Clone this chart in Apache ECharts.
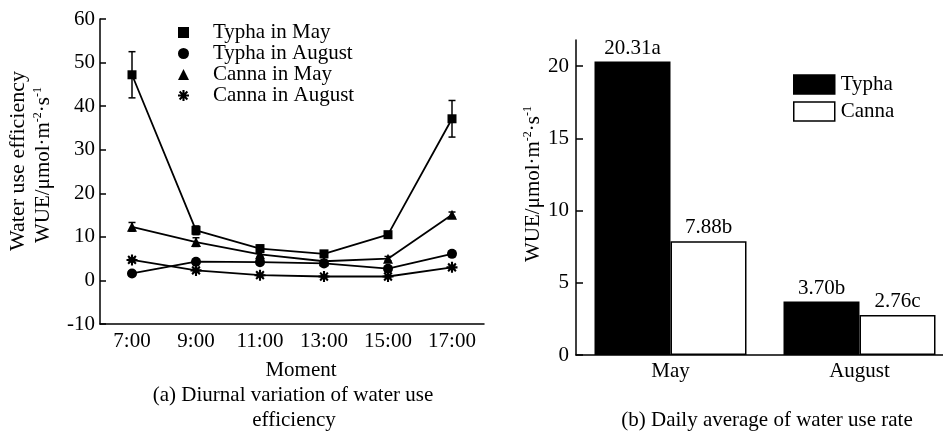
<!DOCTYPE html>
<html>
<head>
<meta charset="utf-8">
<script src="https://cdn.jsdelivr.net/npm/echarts@6/dist/echarts.min.js"></script>
<style>
  html, body { margin: 0; padding: 0; background: #fff; }
  #chart { width: 943px; height: 432px; }
</style>
</head>
<body>
<div id="chart"></div>
<script>
// (a) diurnal water use efficiency, means and standard errors
const hours = ['7:00', '9:00', '11:00', '13:00', '15:00', '17:00'];
const typhaMay = [47.2, 11.5, 7.3, 6.1, 10.5, 37.1];
const typhaMayErr = [5.3, 1.0, 0.8, 0.7, 0.7, 4.2];
const typhaAug = [1.6, 4.3, 4.2, 3.9, 2.7, 6.1];
const typhaAugErr = [0.5, 0.5, 0.5, 0.4, 0.5, 0.6];
const cannaMay = [12.3, 8.8, 6.0, 4.4, 5.0, 15.1];
const cannaMayErr = [1.0, 1.0, 0.5, 0.4, 0.5, 0.6];
const cannaAug = [4.7, 2.3, 1.2, 0.9, 0.9, 3.0];
const cannaAugErr = [0.4, 0.4, 0.3, 0.3, 0.3, 0.4];
const leftTicks = [-10, 0, 10, 20, 30, 40, 50, 60];

// (b) daily averages with significance letters
const months = ['May', 'August'];
const typhaAvg = [20.31, 3.70];
const cannaAvg = [7.88, 2.76];
const typhaSig = ['a', 'b'];
const cannaSig = ['b', 'c'];
const rightTicks = [0, 5, 10, 15, 20];

const FONT = 'Liberation Serif';
const INK = '#000';

// eight-armed asterisk marker built from four crossed bars
function asteriskPath() {
  const parts = [];
  for (let k = 0; k < 4; k++) {
    const a = Math.PI * k / 4;
    const c = Math.cos(a), s = Math.sin(a);
    const L = 10, W = 1.9;
    const pts = [[-L, -W], [L, -W], [L, W], [-L, W]]
      .map(([x, y]) => [x * c - y * s, x * s + y * c]);
    parts.push('M' + pts.map(p => p[0].toFixed(2) + ' ' + p[1].toFixed(2)).join(' L') + ' Z');
  }
  return 'path://' + parts.join(' ');
}
const ASTERISK = asteriskPath();

function errorBars(means, errs) {
  return {
    type: 'custom',
    xAxisIndex: 0,
    yAxisIndex: 0,
    z: 1,
    silent: true,
    data: means.map((m, i) => [i, m - errs[i], m + errs[i]]),
    renderItem(params, api) {
      const lo = api.coord([api.value(0), api.value(1)]);
      const hi = api.coord([api.value(0), api.value(2)]);
      const w = 3.5;
      const st = { stroke: INK, lineWidth: 1.5 };
      return {
        type: 'group',
        children: [
          { type: 'line', shape: { x1: lo[0], y1: lo[1], x2: hi[0], y2: hi[1] }, style: st },
          { type: 'line', shape: { x1: lo[0] - w, y1: lo[1], x2: lo[0] + w, y2: lo[1] }, style: st },
          { type: 'line', shape: { x1: hi[0] - w, y1: hi[1], x2: hi[0] + w, y2: hi[1] }, style: st }
        ]
      };
    }
  };
}

function lineSeries(name, values, symbol, size) {
  return {
    name,
    type: 'line',
    xAxisIndex: 0,
    yAxisIndex: 0,
    z: 3,
    data: values,
    symbol,
    symbolSize: size,
    showAllSymbol: true,
    itemStyle: { color: INK },
    lineStyle: { color: INK, width: 1.8 },
    emphasis: { disabled: true }
  };
}

const supRich = {
  n: { fontFamily: FONT, fontSize: 21, color: INK, lineHeight: 22 },
  sup: { fontFamily: FONT, fontSize: 12, color: INK, verticalAlign: 'top', lineHeight: 12 }
};
const wueName = '{n|WUE/μmol·m}{sup|-2}{n|·s}{sup|-1}';

function plainText(x, y, text, size, rot) {
  return {
    type: 'text', x, y, rotation: rot || 0, silent: true,
    style: {
      text, fontFamily: FONT, fontSize: size, fill: INK,
      align: 'center', verticalAlign: 'middle'
    }
  };
}

const chart = echarts.init(document.getElementById('chart'), null, { renderer: 'canvas' });

chart.setOption({
  animation: false,
  backgroundColor: '#fff',
  textStyle: { fontFamily: FONT, color: INK },
  grid: [
    { left: 100, top: 19, width: 384, height: 305, outerBoundsMode: 'none', containLabel: false },
    { left: 576, top: 40, width: 378, height: 315, outerBoundsMode: 'none', containLabel: false }
  ],
  xAxis: [
    {
      gridIndex: 0, type: 'category', data: hours, boundaryGap: true,
      axisLine: { onZero: false, lineStyle: { color: INK, width: 1.5 } },
      axisTick: { inside: true, alignWithLabel: true, length: 6, lineStyle: { color: INK, width: 1.5 } },
      axisLabel: { color: INK, fontFamily: FONT, fontSize: 21, margin: 7 },
      splitLine: { show: false }
    },
    {
      gridIndex: 1, type: 'category', data: months, boundaryGap: true,
      axisLine: { onZero: false, lineStyle: { color: INK, width: 1.5 } },
      axisTick: { show: false },
      axisLabel: { color: INK, fontFamily: FONT, fontSize: 21, margin: 6 },
      splitLine: { show: false }
    }
  ],
  yAxis: [
    {
      gridIndex: 0, type: 'value', min: -10, max: 60, interval: 10,
      axisLine: { show: true, lineStyle: { color: INK, width: 1.5 } },
      axisTick: { show: true, inside: true, length: 6, customValues: leftTicks, lineStyle: { color: INK, width: 1.5 } },
      axisLabel: { color: INK, fontFamily: FONT, fontSize: 21, margin: 5, customValues: leftTicks },
      splitLine: { show: false }
    },
    {
      gridIndex: 1, type: 'value', min: 0, max: 21.8, interval: 5,
      axisLine: { show: true, lineStyle: { color: INK, width: 1.5 } },
      axisTick: { show: true, inside: true, length: 7, customValues: rightTicks, lineStyle: { color: INK, width: 1.5 } },
      axisLabel: { color: INK, fontFamily: FONT, fontSize: 21, margin: 7, customValues: rightTicks },
      splitLine: { show: false }
    }
  ],
  legend: [
    {
      orient: 'vertical', left: 173, top: 17, itemWidth: 11, itemHeight: 11, itemGap: 0,
      selectedMode: false,
      textStyle: { fontFamily: FONT, fontSize: 21, color: INK, lineHeight: 20, padding: [0, 0, 0, 19] },
      data: [
        { name: 'Typha in May', icon: 'rect' },
        { name: 'Typha in August', icon: 'circle' },
        { name: 'Canna in May', icon: 'triangle' },
        { name: 'Canna in August', icon: ASTERISK }
      ]
    },
    {
      orient: 'vertical', left: 788, top: 69, itemWidth: 41, itemHeight: 19, itemGap: 6,
      selectedMode: false,
      textStyle: { fontFamily: FONT, fontSize: 21, color: INK, lineHeight: 19, padding: [0, 0, 0, 1] },
      data: [
        { name: 'Typha', icon: 'rect', itemStyle: { color: INK, borderColor: INK, borderWidth: 1.5 } },
        { name: 'Canna', icon: 'rect', itemStyle: { color: '#fff', borderColor: INK, borderWidth: 1.5 } }
      ]
    }
  ],
  series: [
    errorBars(typhaMay, typhaMayErr),
    errorBars(typhaAug, typhaAugErr),
    errorBars(cannaMay, cannaMayErr),
    errorBars(cannaAug, cannaAugErr),
    lineSeries('Typha in May', typhaMay, 'rect', 9),
    lineSeries('Typha in August', typhaAug, 'circle', 10),
    lineSeries('Canna in May', cannaMay, 'triangle', 10),
    lineSeries('Canna in August', cannaAug, ASTERISK, 11),
    {
      name: 'Typha', type: 'bar', xAxisIndex: 1, yAxisIndex: 1,
      data: typhaAvg, barWidth: 76, barGap: '0%',
      itemStyle: { color: INK, borderColor: INK, borderWidth: 1.5 },
      label: {
        show: true, position: 'top', distance: 3, color: INK, fontFamily: FONT, fontSize: 21,
        formatter: p => typhaAvg[p.dataIndex].toFixed(2) + typhaSig[p.dataIndex]
      },
      emphasis: { disabled: true }
    },
    {
      name: 'Canna', type: 'bar', xAxisIndex: 1, yAxisIndex: 1,
      data: cannaAvg, barWidth: 76, barGap: '0%',
      itemStyle: { color: '#fff', borderColor: INK, borderWidth: 1.5 },
      label: {
        show: true, position: 'top', distance: 3, color: INK, fontFamily: FONT, fontSize: 21,
        formatter: p => cannaAvg[p.dataIndex].toFixed(2) + cannaSig[p.dataIndex]
      },
      emphasis: { disabled: true }
    }
  ],
  graphic: [
    plainText(18, 161, 'Water use efficiency', 22, Math.PI / 2),
    {
      type: 'text', x: 43, y: 165, rotation: Math.PI / 2, silent: true,
      style: { text: wueName, rich: supRich, align: 'center', verticalAlign: 'middle' }
    },
    {
      type: 'text', x: 533, y: 184, rotation: Math.PI / 2, silent: true,
      style: { text: wueName, rich: supRich, align: 'center', verticalAlign: 'middle' }
    },
    plainText(301, 370, 'Moment', 21),
    plainText(293, 395, '(a) Diurnal variation of water use', 21),
    plainText(294, 420, 'efficiency', 21),
    plainText(767, 420, '(b) Daily average of water use rate', 21)
  ]
});
</script>
</body>
</html>
